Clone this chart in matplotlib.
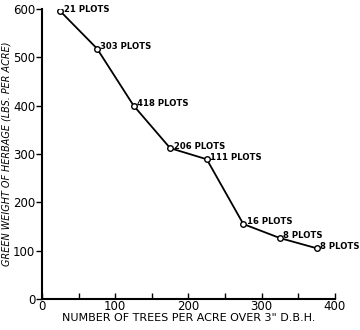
import numpy as np
import matplotlib.pyplot as plt

trees = [25, 75, 125, 175, 225, 275, 325, 375]
herbage = [595, 518, 400, 312, 289, 155, 126, 105]
plots = ['21 PLOTS', '303 PLOTS', '418 PLOTS', '206 PLOTS', '111 PLOTS', '16 PLOTS', '8 PLOTS', '8 PLOTS']

fig = plt.figure(figsize=(3.6, 3.3), dpi=100)
ax = fig.add_axes([0.117, 0.094, 0.813, 0.879])

ax.plot(trees, herbage, color='black', lw=1.3, marker='o', ms=4,
        mfc='white', mec='black', mew=1.0, zorder=3)
for x, y, t in zip(trees, herbage, plots):
    ax.annotate(t, (x, y), xytext=(2.5, 1.5), textcoords='offset points',
                fontsize=6.1, fontweight='bold', va='center', ha='left')

ax.set_xlim(0, 400)
ax.set_ylim(0, 600)
ax.set_xticks([0, 100, 200, 300, 400])
ax.set_xticks([50, 150, 250, 350], minor=True)
ax.set_yticks([0, 100, 200, 300, 400, 500, 600])
ax.tick_params(axis='x', which='both', direction='in', length=4, width=1, labelsize=8.5, pad=1)
ax.tick_params(axis='y', direction='out', length=4, width=1, labelsize=8.5, pad=1)

for s in ['top', 'right']:
    ax.spines[s].set_visible(False)
for s in ['left', 'bottom']:
    ax.spines[s].set_linewidth(1.5)

ax.set_xlabel('NUMBER OF TREES PER ACRE OVER 3" D.B.H.', fontsize=8, labelpad=0)
ax.set_ylabel('GREEN WEIGHT OF HERBAGE (LBS. PER ACRE)', fontsize=6.9,
              style='italic')
ax.yaxis.set_label_coords(-0.104, 0.5)

plt.savefig('out.png', dpi=100)
